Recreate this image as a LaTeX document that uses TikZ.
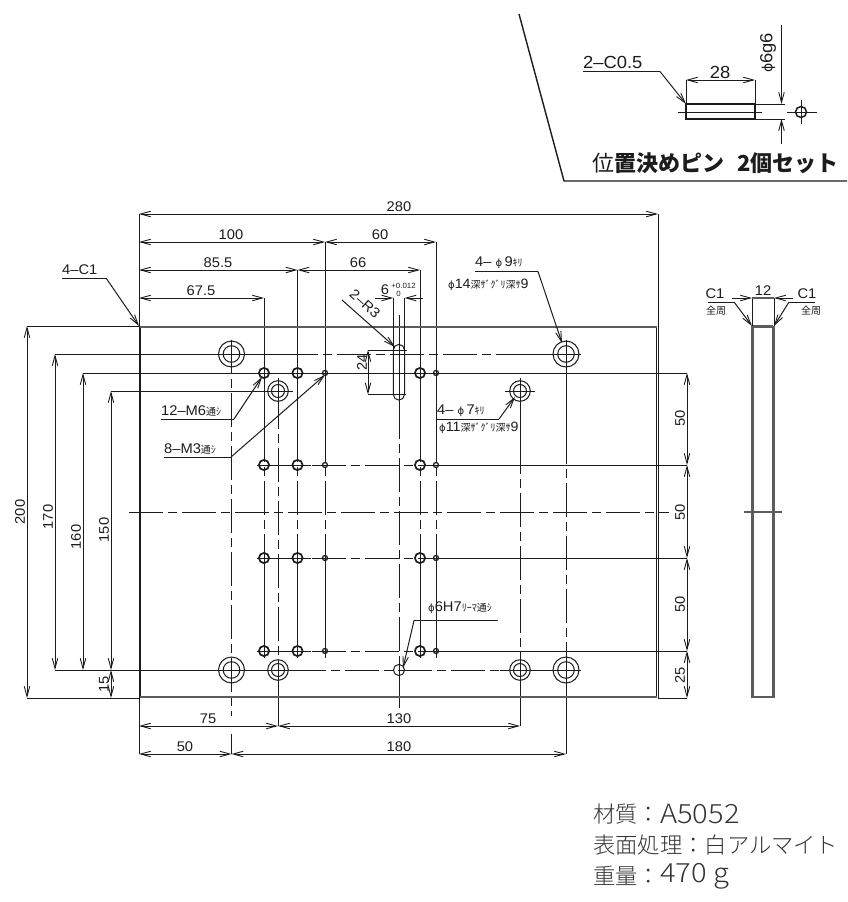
\documentclass[tikz,border=0pt]{standalone}
\usepackage{fontspec}
\usetikzlibrary{arrows.meta}
\newfontfamily\dimf[FakeStretch=1.05]{Liberation Sans}
\newfontfamily\jpf{Noto Sans CJK JP}
\newfontfamily\jpl{Noto Sans CJK JP Light}
\newfontfamily\jplw[FakeStretch=1.1]{Noto Sans CJK JP Light}
\newfontfamily\phif{DejaVu Sans}
\definecolor{ink}{HTML}{1c1c1c}
\definecolor{band}{HTML}{5c5c5c}
\tikzset{
  >={Straight Barb[length=10pt,width=5.5pt,line width=.9pt]},
  ln/.style={line width=1pt,draw=ink},
  dimline/.style={ln,<->},
  chainln/.style={ln,dash pattern=on 34pt off 5pt on 9pt off 5pt},
  bore/.style={line width=1pt,draw=ink},
  thread/.style={line width=1.7pt,draw=ink},
  band/.style={line width=2.8pt,draw=band},
  dt/.style={inner sep=0pt,text=ink,font=\dimf\fontsize{14}{14}\selectfont},
  dtb/.style={inner sep=0pt,text=ink,font=\dimf\fontsize{17.5}{17.5}\selectfont},
  st/.style={inner sep=0pt,text=ink,font=\dimf\fontsize{13.5}{13.5}\selectfont},
  kt/.style={inner sep=0pt,text=ink,font=\jpf\fontsize{10}{10}\selectfont},
  tiny/.style={inner sep=0pt,text=ink,font=\dimf\fontsize{7.5}{7.5}\selectfont},
  capt/.style={inner sep=0pt,anchor=west,text=ink,font=\jpf\fontsize{22}{22}\selectfont},
  matj/.style={inner sep=0pt,anchor=west,text=black!80,font=\jpl\fontsize{22.3}{22.3}\selectfont},
  matl/.style={inner sep=0pt,anchor=west,text=black!80,font=\jplw\fontsize{26.5}{26.5}\selectfont},
}
\newcommand{\kn}[1]{{\jpf\fontsize{10}{10}\selectfont #1}}
\newcommand{\ph}{{\phif\fontsize{10}{10}\selectfont ϕ}}
\newcommand{\phb}{{\phif\fontsize{14}{14}\selectfont ϕ}}
\begin{document}
\begin{tikzpicture}[x=1pt,y=-1pt]
\useasboundingbox (0,0) rectangle (847,902);

% ---- centre lines, horizontal
\draw[ln] (55,354) -- (284,354);
\draw[chainln] (284,354) -- (510,354);
\draw[ln] (510,354) -- (581,354);
\draw[ln] (83,373) -- (687,373);
\draw[ln] (111,391) -- (293,391);
\draw[ln] (505,391) -- (535,391);
\foreach \yy in {465,558,651}{
  \draw[ln] (257,\yy) -- (311,\yy);
  \draw[chainln] (312,\yy) -- (445,\yy);
  \draw[ln] (445,\yy) -- (687,\yy);
}
\draw[chainln] (129,512) -- (669,512);
\draw[ln] (55,670) -- (292,670);
\draw[chainln] (292,670) -- (500,670);
\draw[ln] (500,670) -- (581,670);

% ---- centre lines, vertical
\draw[chainln] (231.5,340) -- (231.5,716);
\draw[ln] (231.5,734) -- (231.5,754);
\draw[ln] (278,378) -- (278,395);
\draw[chainln] (278,395) -- (278,680);
\draw[ln] (278,680) -- (278,726);
\foreach \xx/\yy in {264/298,297.5/270,420/270}{
  \draw[ln] (\xx,\yy) -- (\xx,428);
  \draw[chainln] (\xx,428) -- (\xx,560);
  \draw[ln] (\xx,560) -- (\xx,658);
}
\foreach \xx in {325,436}{
  \draw[ln] (\xx,242) -- (\xx,428);
  \draw[chainln] (\xx,428) -- (\xx,560);
  \draw[ln] (\xx,560) -- (\xx,658);
}
\draw[ln] (399,315) -- (399,405);
\draw[chainln] (399,405) -- (399,660);
\draw[ln] (399,660) -- (399,708);
\draw[ln] (520,378) -- (520,440);
\draw[chainln] (520,440) -- (520,660);
\draw[ln] (520,660) -- (520,726);
\draw[ln] (566,340) -- (566,430);
\draw[chainln] (566,430) -- (566,660);
\draw[ln] (566,660) -- (566,754);

% ---- plate
\coordinate (pTL) at (139,326);
\coordinate (pTR) at (658,326);
\coordinate (pBL) at (139,698);
\coordinate (pBR) at (658,698);
\draw[ln] (pTL) -- (pBL);
\draw[ln] (pTR) -- (pBR);
\draw[ln] (140.8,327) -- (140.8,697);
\draw[ln] (656.2,327) -- (656.2,697);
\draw[band] (140,327) -- (657,327);
\draw[band] (140,697) -- (657,697);

% ---- holes
\foreach \xx/\yy in {231.5/354,566/354,231.5/670,566/670}{
  \draw[bore] (\xx,\yy) circle[radius=13];
  \draw[bore] (\xx,\yy) circle[radius=8.3];
}
\foreach \xx/\yy in {278/391,520/391,278/670,520/670}{
  \draw[bore] (\xx,\yy) circle[radius=10.3];
  \draw[bore] (\xx,\yy) circle[radius=6.5];
}
\foreach \xx in {264,297.5,420}{
  \foreach \yy in {373,465,558,651}{
    \draw[thread] (\xx,\yy) circle[radius=5.1];
  }
}
\foreach \xx in {325,436}{
  \foreach \yy in {373,465,558,651}{
    \draw[thread,line width=1.3pt] (\xx,\yy) circle[radius=2.5];
  }
}
\draw[bore] (399,670) circle[radius=5.6];

% ---- slot
\draw[bore] (393.3,350) arc[start angle=180,end angle=360,radius=5.6] -- (404.5,394.5)
  arc[start angle=0,end angle=180,radius=5.6] -- cycle;
\draw[ln] (393.3,298) -- (393.3,350);
\draw[ln] (404.5,298) -- (404.5,350);
\draw[ln] (368,350) -- (407,350);
\draw[ln] (368,394.5) -- (406,394.5);
\draw[ln,<->] (368,350) -- (368,394.5);
\draw[ln,->] (375,298) -- (393.3,298);
\draw[ln,->] (423,298) -- (404.5,298);

% ---- extension lines outside the plate
\draw[ln] (139,214) -- (139,326);
\draw[ln] (658,214) -- (658,326);
\draw[ln] (139,698) -- (139,754);
\draw[ln] (27,326) -- (139,326);
\draw[ln] (27,698) -- (139,698);
\draw[ln] (658,698) -- (687,698);

% ---- dimensions
\draw[dimline] (139,214) -- (658,214);
\draw[dimline] (139,242) -- (325,242);
\draw[dimline] (325,242) -- (436,242);
\draw[dimline] (139,270) -- (297.5,270);
\draw[dimline] (297.5,270) -- (420,270);
\draw[dimline] (139,298) -- (264,298);
\draw[dimline] (27,326) -- (27,698);
\draw[dimline] (55,354) -- (55,670);
\draw[dimline] (83,373) -- (83,670);
\draw[dimline] (111,391) -- (111,670);
\draw[dimline] (111,670) -- (111,698);
\draw[dimline] (139,726) -- (278,726);
\draw[dimline] (278,726) -- (520,726);
\draw[dimline] (139,754) -- (231.5,754);
\draw[dimline] (231.5,754) -- (566,754);
\draw[dimline] (687,373) -- (687,465);
\draw[dimline] (687,465) -- (687,558);
\draw[dimline] (687,558) -- (687,651);
\draw[dimline] (687,651) -- (687,698);

\node[dt] (t280) at (399,207) {280};
\node[dt] (t100) at (231,235) {100};
\node[dt] (t60) at (380,235) {60};
\node[dt] (t855) at (218,263) {85.5};
\node[dt] (t66) at (358,263) {66};
\node[dt] (t675) at (201,291) {67.5};
\node[dt,rotate=90] (t200) at (20,512) {200};
\node[dt,rotate=90] (t170) at (48,517) {170};
\node[dt,rotate=90] (t160) at (76,537) {160};
\node[dt,rotate=90] (t150) at (104,530) {150};
\node[dt,rotate=90] (t15) at (104,684) {15};
\node[dt] (t75) at (208,719) {75};
\node[dt] (t50) at (185,747) {50};
\node[dt] (t130) at (399,719) {130};
\node[dt] (t180) at (399,747) {180};
\node[dt,rotate=90] (tr1) at (680,418) {50};
\node[dt,rotate=90] (tr2) at (680,512) {50};
\node[dt,rotate=90] (tr3) at (680,604) {50};
\node[dt,rotate=90] (tr4) at (680,675) {25};
\node[dt,rotate=90] (t24) at (362,362) {24};
\node[dt] (t6) at (385,290) {6};
\node[tiny] (t6a) at (403.5,285.5) {+0.012};
\node[tiny] (t6b) at (398.5,293.5) {0};

% ---- leaders
\draw[ln] (62,278) -- (106,278);
\draw[ln,->] (106,278) -- (139,326);
\node[dt,anchor=west] (lC1) at (62,270) {4–C1};
\draw[ln] (161,419) -- (234,419);
\draw[ln,->] (234,419) -- (262,377);
\node[dt,anchor=west] (lM6) at (161,411) {12–M6\kn{通ｼ}};
\draw[ln] (164,457) -- (231,457);
\draw[ln,->] (231,457) -- (325,375);
\node[dt,anchor=west] (lM3) at (164,449) {8–M3\kn{通ｼ}};
\draw[ln,->] (342,300) -- (395,347);
\node[dt,rotate=-42] (lR3) at (365,304) {2–R3};
\draw[ln] (475,271.5) -- (538,271.5);
\draw[ln,->] (538,271.5) -- (562,343);
\node[dt,anchor=west] (lP9) at (475,263) {4– \ph\,9\kn{ｷﾘ}};
\node[st,anchor=west] (lP14) at (448,285) {\ph14\kn{深ｻﾞｸﾞﾘ深ｻ}9};
\draw[ln] (436,419) -- (499,419);
\draw[ln,->] (499,419) -- (515,397);
\node[dt,anchor=west] (lP7) at (437,411) {4– \ph\,7\kn{ｷﾘ}};
\node[st,anchor=west] (lP11) at (439,428) {\ph11\kn{深ｻﾞｸﾞﾘ深ｻ}9};
\draw[ln] (498,620.5) -- (414,620.5);
\draw[ln,->] (414,620.5) -- (403,668);
\node[dt,anchor=west] (lH7) at (428,608) {\ph6H7\kn{ﾘｰﾏ通ｼ}};

% ---- side view
\draw[band,line width=3pt] (752.7,326) -- (752.7,698);
\draw[band,line width=3pt] (773.3,326) -- (773.3,698);
\draw[band] (753,326.5) -- (773,326.5);
\draw[band] (753,697) -- (773,697);
\draw[ln] (752,298) -- (752,326);
\draw[ln] (774,298) -- (774,326);
\draw[band,line width=1.6pt] (752,298) -- (774,298);
\draw[ln,->] (732,298) -- (752,298);
\draw[ln,->] (793,298) -- (774,298);
\draw[band,line width=1.5pt] (744,512) -- (782,512);
\node[dt] (t12) at (763,291) {12};
\draw[ln] (708,302) -- (734,302);
\draw[ln,->] (734,302) -- (752,326);
\node[dt] (lC1a) at (715,294) {C1};
\node[kt] (lz1) at (716,311) {全周};
\draw[ln] (815,302) -- (789,302);
\draw[ln,->] (789,302) -- (774,326);
\node[dt] (lC1b) at (807,294) {C1};
\node[kt] (lz2) at (811,311) {全周};

% ---- pin inset
\draw[line width=1.4pt,draw=ink] (519,14) -- (564,181) -- (847,181);
\draw[ln,line width=1.2pt] (686,104) rectangle (755,119);
\draw[thread] (686,104) -- (686,119);
\draw[thread] (755,104) -- (755,119);
\draw[ln] (755,104) -- (785,104);
\draw[ln] (755,119) -- (785,119);
\draw[ln] (678,112) -- (762,112);
\draw[ln] (686,80) -- (686,104);
\draw[ln] (755,80) -- (755,104);
\draw[dimline] (686,80) -- (755,80);
\node[dtb] (t28) at (720,72.5) {28};
\draw[ln] (583,71.5) -- (660,71.5);
\draw[ln,->] (660,71.5) -- (686,104);
\node[dtb,anchor=west] (l05) at (583,62) {2–C0.5};
\draw[ln,->] (781.5,25) -- (781.5,104);
\draw[ln,->] (781.5,144) -- (781.5,119);
\node[dtb,rotate=90] (t6g6) at (768,53) {\phb 6g6};
\draw[bore,line width=1.5pt] (801,112) circle[radius=5.5];
\draw[ln] (787,112) -- (817,112);
\draw[ln] (801,100) -- (801,124);
\node[capt] (cap1) at (592,163) {位{\bfseries 置決めピン}};
\node[capt] (cap2) at (737,163) {\bfseries 2個セット};

% ---- notes
\node[matj] (n1) at (593,814) {材質：};
\node[matl] (n1b) at (660,814) {A5052};
\node[matj] (n2) at (593,845) {表面処理：白アルマイト};
\node[matj] (n3) at (593,876) {重量：};
\node[matl] (n3b) at (660,876) {470 g};
\end{tikzpicture}
\end{document}
